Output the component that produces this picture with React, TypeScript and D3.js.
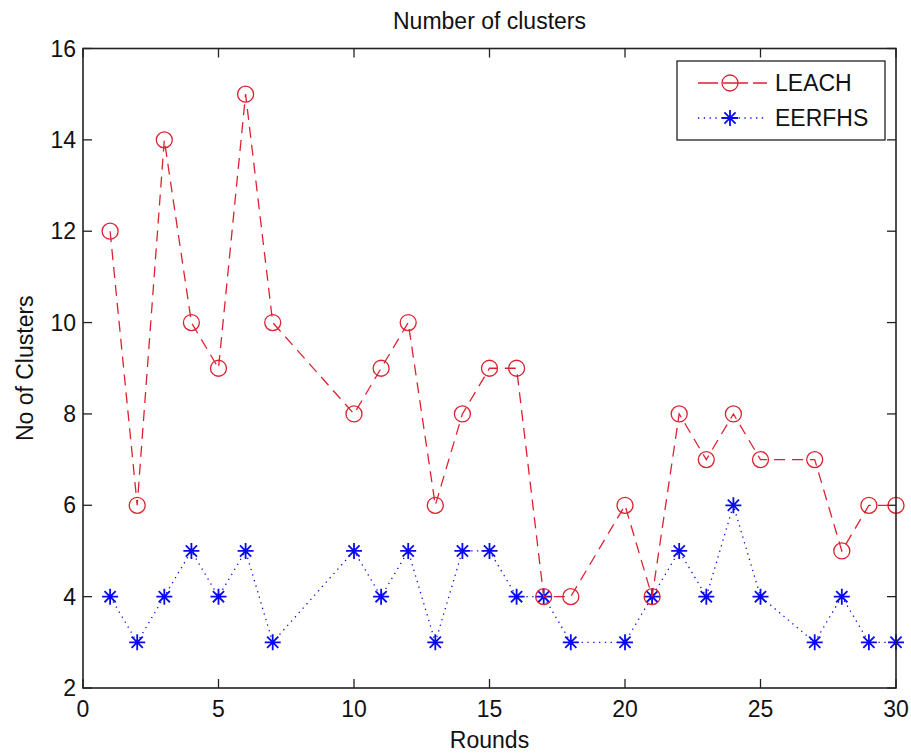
import React from "react";
import * as d3 from "d3";

const rounds = [1, 2, 3, 4, 5, 6, 7, 10, 11, 12, 13, 14, 15, 16, 17, 18, 20, 21, 22, 23, 24, 25, 27, 28, 29, 30];
const leach = [12, 6, 14, 10, 9, 15, 10, 8, 9, 10, 6, 8, 9, 9, 4, 4, 6, 4, 8, 7, 8, 7, 7, 5, 6, 6];
const eerfhs = [4, 3, 4, 5, 4, 5, 3, 5, 4, 5, 3, 5, 5, 4, 4, 3, 3, 4, 5, 4, 6, 4, 3, 4, 3, 3];
const xTicks = [0, 5, 10, 15, 20, 25, 30];
const yTicks = [2, 4, 6, 8, 10, 12, 14, 16];
const seriesNames = ["LEACH", "EERFHS"];
const titleText = "Number of clusters";
const xLabelText = "Rounds";
const yLabelText = "No of Clusters";

const W = 911;
const H = 756;
const L = 83, R = 896, T = 48.5, B = 688;
const FONT = "'Liberation Sans', Arial, sans-serif";
const FS = 23;
const RED = "#dc2230";
const BLUE = "#0a0aee";
const AX = "#222";

function Asterisk({ x, y, s = 8 }: { x: number; y: number; s?: number }) {
  const d = s * 0.7;
  return (
    <path
      d={`M${x - s},${y}H${x + s}M${x},${y - s}V${y + s}M${x - d},${y - d}L${x + d},${y + d}M${x - d},${y + d}L${x + d},${y - d}`}
      stroke={BLUE}
      strokeWidth={1.8}
      fill="none"
    />
  );
}

export default function App() {
  const x = d3.scaleLinear().domain([0, 30]).range([L, R]);
  const y = d3.scaleLinear().domain([2, 16]).range([B, T]);
  const line = d3.line<[number, number]>().x((d) => x(d[0])).y((d) => y(d[1]));
  const lPts: [number, number][] = rounds.map((r, i) => [r, leach[i]]);
  const ePts: [number, number][] = rounds.map((r, i) => [r, eerfhs[i]]);
  const tl = 9;

  const legX = 677, legY = 61, legW = 208, legH = 79;
  const row1 = 83, row2 = 118;
  const sx0 = 698, sx1 = 767, smid = 730;

  return (
    <svg
      width={W}
      height={H}
      style={{ position: "absolute", left: 0, top: 0, background: "#fff" }}
      fontFamily={FONT}
    >
      <rect x={0} y={0} width={W} height={H} fill="#fff" />
      <text x={(L + R) / 2} y={29} fontSize={FS} textAnchor="middle" fill="#111">
        {titleText}
      </text>

      {/* ticks */}
      {xTicks.map((t) => (
        <g key={"x" + t}>
          <line x1={x(t)} x2={x(t)} y1={B} y2={B - tl} stroke={AX} strokeWidth={1.3} />
          <line x1={x(t)} x2={x(t)} y1={T} y2={T + tl} stroke={AX} strokeWidth={1.3} />
          <text x={x(t)} y={717} fontSize={FS} textAnchor="middle" fill="#111">
            {t}
          </text>
        </g>
      ))}
      {yTicks.map((t) => (
        <g key={"y" + t}>
          <line x1={L} x2={L + tl} y1={y(t)} y2={y(t)} stroke={AX} strokeWidth={1.3} />
          <line x1={R} x2={R - tl} y1={y(t)} y2={y(t)} stroke={AX} strokeWidth={1.3} />
          <text x={76} y={y(t)} fontSize={FS} textAnchor="end" dominantBaseline="central" fill="#111">
            {t}
          </text>
        </g>
      ))}

      {/* series */}
      <path d={line(ePts) || ""} fill="none" stroke={BLUE} strokeWidth={1.3} strokeDasharray="1.3,4.5" />
      {ePts.map((p, i) => (
        <Asterisk key={"e" + i} x={x(p[0])} y={y(p[1])} />
      ))}
      <path d={line(lPts) || ""} fill="none" stroke={RED} strokeWidth={1.3} strokeDasharray="11,7" />
      {lPts.map((p, i) => (
        <circle key={"l" + i} cx={x(p[0])} cy={y(p[1])} r={8} fill="none" stroke={RED} strokeWidth={1.3} />
      ))}

      {/* axes box */}
      <rect x={L} y={T} width={R - L} height={B - T} fill="none" stroke={AX} strokeWidth={1.6} />

      {/* legend */}
      <rect x={legX} y={legY} width={legW} height={legH} fill="#fff" stroke={AX} strokeWidth={1.3} />
      <line x1={sx0} x2={sx1} y1={row1} y2={row1} stroke={RED} strokeWidth={1.3} strokeDasharray="20,5,25,5,20" />
      <circle cx={smid} cy={row1} r={8} fill="none" stroke={RED} strokeWidth={1.3} />
      <text x={775} y={row1} fontSize={FS} dominantBaseline="central" fill="#111">
        {seriesNames[0]}
      </text>
      <line x1={sx0} x2={sx1} y1={row2} y2={row2} stroke={BLUE} strokeWidth={1.3} strokeDasharray="1.3,4.5" />
      <Asterisk x={smid} y={row2} />
      <text x={775} y={row2} fontSize={FS} dominantBaseline="central" fill="#111">
        {seriesNames[1]}
      </text>

      {/* axis labels */}
      <text x={(L + R) / 2} y={748} fontSize={FS} textAnchor="middle" fill="#111">
        {xLabelText}
      </text>
      <text
        transform={`translate(33,${(T + B) / 2}) rotate(-90)`}
        fontSize={FS}
        textAnchor="middle"
        fill="#111"
      >
        {yLabelText}
      </text>
    </svg>
  );
}
